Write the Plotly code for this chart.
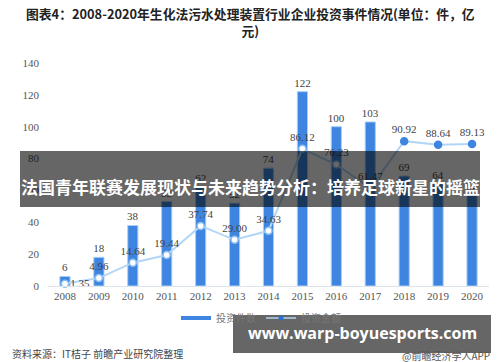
import plotly.graph_objects as go

years = ["2008", "2009", "2010", "2011", "2012", "2013", "2014",
         "2015", "2016", "2017", "2018", "2019", "2020"]
deal_counts = [6, 18, 38, 53, 62, 52, 74, 122, 100, 103, 69, 64, 58]
deal_amounts = [1.35, 4.96, 14.64, 19.44, 37.74, 29.00, 34.63,
                86.12, 76.23, 61.47, 90.92, 88.64, 89.13]
y_ticks = [0, 20, 40, 60, 80, 100, 120, 140]

W, H = 500, 362
L, R, T, B = 48, 11, 63, 76
PW, PH = W - L - R, H - T - B


def px(x):
    return (x - L) / PW


def py(y):
    return (H - B - y) / PH


BAR_C = "#3d85e0"
LINE_C = "#b3d6f7"
CJK = "Noto Sans CJK SC"
SERIF = "Liberation Serif"

fig = go.Figure()

fig.add_trace(go.Bar(
    x=years, y=deal_counts, width=0.3,
    marker=dict(color=BAR_C, line=dict(color="#a9cff5", width=1)),
    text=[str(v) for v in deal_counts], textposition="outside",
    constraintext="none",
    textfont=dict(family=SERIF, size=11, color="#444"),
    cliponaxis=False, showlegend=False,
))

marker_fill = ["white"] * 10 + [BAR_C] * 3
marker_line = ["#8dbff0"] * 10 + [BAR_C] * 3
positions = ["middle right"] + ["top center"] * 12
fig.add_trace(go.Scatter(
    x=years, y=deal_amounts, mode="lines+markers+text",
    line=dict(color=LINE_C, width=2),
    marker=dict(size=7, color=marker_fill, line=dict(color=marker_line, width=1.5)),
    text=[f"{v:.2f}" for v in deal_amounts], textposition=positions,
    textfont=dict(family=SERIF, size=11, color="#444"),
    cliponaxis=False, showlegend=False,
))

# legend-only traces
fig.add_trace(go.Scatter(
    x=[None], y=[None], mode="lines", name="投资件数",
    line=dict(color=BAR_C, width=4),
))
fig.add_trace(go.Scatter(
    x=[None], y=[None], mode="lines+markers", name="投资金额",
    line=dict(color=LINE_C, width=1.5),
    marker=dict(color="#2a6fcf", size=5),
))

fig.update_layout(
    width=W, height=H,
    margin=dict(l=L, r=R, t=T, b=B),
    paper_bgcolor="white", plot_bgcolor="white",
    font=dict(family=CJK),
    bargap=0.7,
    legend=dict(
        orientation="h", x=px(261), xanchor="center", y=py(318), yanchor="middle",
        font=dict(family=CJK, size=10, color="#777"),
        itemwidth=30, bgcolor="rgba(0,0,0,0)",
    ),
    xaxis=dict(
        type="category", range=[-0.5, 12.5],
        showline=True, linecolor="#dde3ea", linewidth=1,
        ticks="", showgrid=False,
        tickfont=dict(family=SERIF, size=11, color="#555"),
    ),
    yaxis=dict(
        range=[0, 140], tickvals=y_ticks, showgrid=False, zeroline=False,
        showline=False, ticks="", ticklabelstandoff=8,
        tickfont=dict(family=SERIF, size=11, color="#555"),
    ),
)

# title (two lines)
fig.add_annotation(
    x=px(250), y=py(22), xref="paper", yref="paper",
    xanchor="center", yanchor="middle", showarrow=False,
    text="<b>图表4：2008-2020年生化法污水处理装置行业企业投资事件情况(单位：件，亿<br>元)</b>",
    font=dict(family=CJK, size=12.8, color="#222"),
)

fig.add_annotation(
    x=px(10), y=py(353), xref="paper", yref="paper",
    xanchor="left", yanchor="middle", showarrow=False,
    text="资料来源：IT桔子 前瞻产业研究院整理",
    font=dict(family=CJK, size=10, color="#444"),
)
fig.add_annotation(
    x=px(492), y=py(355), xref="paper", yref="paper",
    xanchor="right", yanchor="middle", showarrow=False,
    text="@前瞻经济学人APP",
    font=dict(family=CJK, size=10, color="#555"),
)

# overlay banner
fig.add_shape(
    type="rect", xref="paper", yref="paper",
    x0=px(20), x1=px(480), y0=py(207), y1=py(151),
    fillcolor="rgba(0,0,0,0.6)", line=dict(width=0), layer="above",
)
fig.add_annotation(
    x=px(250), y=py(186), xref="paper", yref="paper",
    xanchor="center", yanchor="middle", showarrow=False,
    text="<b>法国青年联赛发展现状与未来趋势分析：培养足球新星的摇篮</b>",
    font=dict(family=CJK, size=17, color="white"),
)

# footer box
fig.add_shape(
    type="rect", xref="paper", yref="paper",
    x0=px(233), x1=px(491), y0=py(353), y1=py(315),
    fillcolor="rgba(0,0,0,0.6)", line=dict(width=0), layer="above",
)
fig.add_annotation(
    x=px(362), y=py(333), xref="paper", yref="paper",
    xanchor="center", yanchor="middle", showarrow=False,
    text="<b>www.warp-boyuesports.com</b>",
    font=dict(family="Open Sans", size=16, color="white"),
)

fig.write_html("out.html", config={"displayModeBar": False},
               post_script="document.body.style.margin='0';")
